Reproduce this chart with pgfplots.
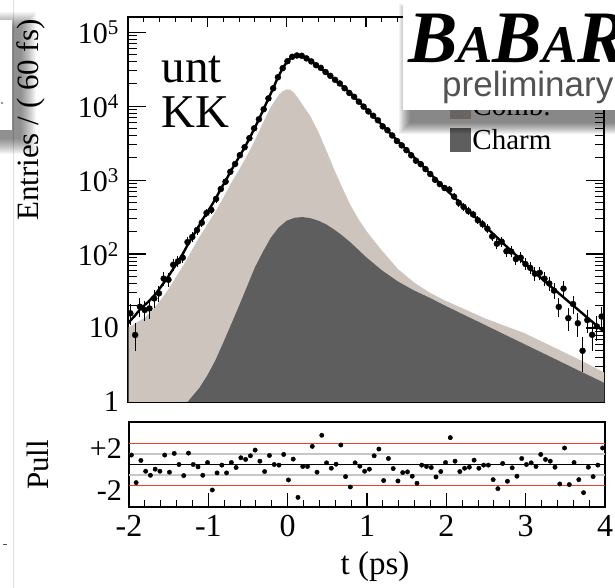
\documentclass[border=0pt]{standalone}
\usepackage{fontspec}
\setmainfont{Liberation Serif}
\newfontfamily\sansfont{Liberation Sans}
\usepackage{pgfplots}
\usepackage{pgfplotstable}
\pgfplotsset{compat=1.18}
\definecolor{combcol}{RGB}{205,197,189}
\definecolor{charmcol}{RGB}{94,94,94}
\definecolor{pullred}{RGB}{238,62,32}

\pgfplotstableread{
t n e
-1.97 15.8 3.97
-1.91 8.06 2.84
-1.85 19.4 4.40
-1.79 17.5 4.18
-1.73 18.4 4.29
-1.67 25.1 5.01
-1.61 29.4 5.42
-1.55 46.5 6.82
-1.49 44.9 6.70
-1.43 71.6 8.46
-1.37 79.4 8.91
-1.31 89.3 9.45
-1.25 145 12.0
-1.19 170 13.0
-1.13 211 14.5
-1.07 265 16.3
-1.01 359 18.9
-0.95 395 19.9
-0.89 556 23.6
-0.83 757 27.5
-0.77 952 30.9
-0.71 1295 36.0
-0.65 1648 40.6
-0.59 2168 46.6
-0.53 2780 52.7
-0.47 3682 60.7
-0.41 4995 70.7
-0.35 6633 81.4
-0.29 9055 95.2
-0.23 12690 113
-0.17 17380 132
-0.11 24540 157
-0.05 32530 180
0.01 40440 201
0.07 46350 215
0.13 48280 220
0.19 47820 219
0.25 44120 210
0.31 40160 200
0.37 35750 189
0.43 32870 181
0.49 28870 170
0.55 25640 160
0.61 22650 150
0.67 20220 142
0.73 17420 132
0.79 15040 123
0.85 13360 116
0.91 11460 107
0.97 9825 99.1
1.03 8470 92.0
1.09 7400 86.0
1.15 6428 80.2
1.21 5319 72.9
1.27 4717 68.7
1.33 4002 63.3
1.39 3373 58.1
1.45 2942 54.2
1.51 2534 50.3
1.57 2160 46.5
1.63 1826 42.7
1.69 1639 40.5
1.75 1406 37.5
1.81 1206 34.7
1.87 1008 31.7
1.93 882 29.7
1.99 781 27.9
2.05 743 27.3
2.11 597 24.4
2.17 492 22.2
2.23 434 20.8
2.29 380 19.5
2.35 343 18.5
2.41 286 16.9
2.47 253 15.9
2.53 220 14.8
2.59 173 13.2
2.65 138 11.7
2.71 147 12.1
2.77 109 10.4
2.83 108 10.4
2.89 85.5 9.25
2.95 89.4 9.46
3.01 73.3 8.56
3.07 65.1 8.07
3.13 54.2 7.36
3.19 55.8 7.47
3.25 46.4 6.81
3.31 40.0 6.32
3.37 32.0 5.66
3.43 19.3 4.39
3.49 34.1 5.84
3.55 13.6 3.69
3.61 21.1 4.59
3.67 11.6 3.41
3.73 4.93 2.22
3.79 12.8 3.58
3.85 8.1 2.85
3.91 10.5 3.24
3.97 14.3 3.78
}\datatable

\pgfplotstableread{
t v
-2.00 11.5
-1.97 12.6
-1.91 14.8
-1.85 17.8
-1.79 20.4
-1.73 23.4
-1.67 27.5
-1.61 33.1
-1.55 40.7
-1.49 50.1
-1.43 63.1
-1.37 79.4
-1.31 100
-1.25 132
-1.19 170
-1.13 214
-1.07 282
-1.01 355
-0.95 447
-0.89 575
-0.83 759
-0.77 977
-0.71 1288
-0.65 1660
-0.59 2138
-0.53 2754
-0.47 3631
-0.41 4898
-0.35 6607
-0.29 9120
-0.23 12590
-0.17 17380
-0.11 24550
-0.05 32360
0.01 40740
0.07 46240
0.13 48980
0.19 47860
0.25 44160
0.31 39810
0.37 35890
0.43 32360
0.49 28840
0.55 25700
0.61 22650
0.67 19950
0.73 17580
0.79 15310
0.85 13340
0.91 11480
0.97 9890
1.03 8511
1.09 7328
1.15 6310
1.21 5433
1.27 4677
1.33 4027
1.39 3467
1.45 2985
1.51 2570
1.57 2213
1.63 1905
1.69 1641
1.75 1413
1.81 1216
1.87 1047
1.93 902
1.99 776
2.05 676
2.11 589
2.17 507
2.23 442
2.29 385
2.35 335
2.41 292
2.47 254
2.53 221
2.59 193
2.65 168
2.71 146
2.77 127
2.83 111
2.89 96.6
2.95 84.1
3.01 73.3
3.07 63.8
3.13 55.6
3.19 49.0
3.25 43.2
3.31 38.0
3.37 33.5
3.43 29.5
3.49 26.0
3.55 22.9
3.61 20.2
3.67 17.8
3.73 15.7
3.79 13.8
3.85 12.2
3.91 10.7
3.97 9.44
4.00 8.91
}\fittable

\pgfplotstableread{
t v
-2.0 10.0
-1.9 11.7
-1.8 13.5
-1.7 17.0
-1.6 22.9
-1.5 32.4
-1.4 47.9
-1.3 70.8
-1.2 110
-1.1 170
-1.0 251
-0.9 372
-0.8 575
-0.7 912
-0.6 1380
-0.5 2138
-0.4 3467
-0.3 5888
-0.2 9772
-0.1 14130
-0.05 15850
0.0 16790
0.05 16600
0.1 14790
0.15 12590
0.2 10470
0.3 7244
0.4 4467
0.5 2512
0.6 1380
0.7 794
0.8 468
0.9 302
1.0 209
1.1 151
1.2 112
1.4 63.1
1.6 41.7
1.8 30.2
2.0 23.4
2.25 17.8
2.5 13.5
2.75 10.7
3.0 8.51
3.25 6.31
3.5 4.68
3.75 3.47
4.0 2.51
}\combtable

\pgfplotstableread{
t v
-1.25 1.0
-1.1 1.55
-1.0 2.29
-0.9 3.63
-0.8 6.31
-0.7 11.2
-0.6 20.0
-0.5 36.3
-0.4 66.1
-0.3 107
-0.2 166
-0.1 229
0.0 282
0.1 309
0.2 316
0.3 305
0.4 282
0.5 251
0.6 214
0.7 178
0.8 145
0.9 115
1.0 91.2
1.2 60.3
1.4 42.7
1.6 32.4
1.8 25.7
2.0 20.0
2.25 14.8
2.5 11.0
2.75 8.13
3.0 6.03
3.25 4.47
3.5 3.31
3.75 2.45
4.0 1.82
}\charmtable

\pgfplotstableread{
t p
-1.97 0.91
-1.91 -1.75
-1.85 0.39
-1.79 -0.65
-1.73 -1.04
-1.67 -0.45
-1.61 -0.65
-1.55 0.91
-1.49 -0.74
-1.43 1.07
-1.37 0.0
-1.31 -1.07
-1.25 1.10
-1.19 0.0
-1.13 -0.23
-1.07 -1.04
-1.01 0.19
-0.95 -2.46
-0.89 -0.81
-0.83 -0.06
-0.77 -0.81
-0.71 0.19
-0.65 -0.29
-0.59 0.65
-0.53 0.49
-0.47 0.84
-0.41 1.39
-0.35 0.32
-0.29 -0.68
-0.23 0.87
-0.17 0.0
-0.11 -0.06
-0.05 0.97
0.01 -1.49
0.07 0.52
0.13 -3.17
0.19 -0.19
0.25 -0.19
0.31 1.75
0.37 -0.74
0.43 2.82
0.49 0.16
0.55 -0.36
0.61 0.03
0.67 1.88
0.73 -1.17
0.79 -2.17
0.85 0.16
0.91 -0.16
0.97 -0.65
1.03 -0.45
1.09 0.84
1.15 1.49
1.21 -1.55
1.27 0.58
1.33 -0.39
1.39 -1.59
1.45 -0.78
1.51 -0.71
1.57 -1.13
1.63 -1.81
1.69 -0.06
1.75 -0.19
1.81 -0.29
1.87 -1.20
1.93 -0.68
1.99 0.19
2.05 2.59
2.11 0.32
2.17 -0.68
2.23 -0.36
2.29 -0.26
2.35 0.42
2.41 -0.36
2.47 -0.06
2.53 -0.06
2.59 -1.46
2.65 -2.33
2.71 0.10
2.77 -1.62
2.83 -0.32
2.89 -1.13
2.95 0.58
3.01 0.0
3.07 0.16
3.13 -0.19
3.19 0.97
3.25 0.49
3.31 0.32
3.37 -0.26
3.43 -1.88
3.49 1.59
3.55 -1.94
3.61 0.19
3.67 -1.46
3.73 -2.72
3.79 -0.26
3.85 -1.17
3.91 -0.06
3.97 1.59
}\pulltable

\newcommand{\ticklab}{\fontsize{30}{30}\selectfont}
\newcommand{\axlab}{\fontsize{31}{31}\selectfont}

\begin{document}
\begin{tikzpicture}
% invisible frame that fixes the page size
\path (0pt,0pt) rectangle (615pt,588pt);
% slide background elements
\begin{scope}[overlay]
\draw[black!12, line width=1pt] (13.5pt,0pt) -- (13.5pt,588pt);
\foreach \k in {1,...,16}{
  \fill[black, opacity=0.035] (-2pt-\k pt,450pt-\k pt) rectangle (20pt+\k pt,560pt+\k pt);
}
\fill[white] (-10pt,458pt) rectangle (12pt,568pt);
\fill[black!55] (2pt,485pt) circle (1.2pt);
\draw[black!70, line width=1pt] (3pt,43pt) -- (7pt,43pt);
\end{scope}

% ---------- main panel ----------
\begin{axis}[
  at={(128pt,186pt)}, anchor=south west,
  scale only axis, width=476pt, height=385pt,
  xmin=-2, xmax=4, ymode=log, ymin=1, ymax=1.6e5,
  xtick=\empty,
  ytick={1,10,100,1000,10000,100000},
  yticklabels={1,10,10\textsuperscript{2},10\textsuperscript{3},10\textsuperscript{4},10\textsuperscript{5}},
  minor ytick={2,3,4,5,6,7,8,9,20,30,40,50,60,70,80,90,200,300,400,500,600,700,800,900,2000,3000,4000,5000,6000,7000,8000,9000,20000,30000,40000,50000,60000,70000,80000,90000},
  ytick pos=both, yticklabel pos=left,
  tick align=inside,
  major tick length=18pt, minor tick length=9pt,
  tick style={black, line width=1.1pt},
  axis line style={black, line width=1.6pt},
  yticklabel style={font=\ticklab, inner sep=0pt, xshift=-9pt},
  ylabel={Entries / ( 60 fs)},
  ylabel style={at={(axis description cs:-0.204,0.732)}, anchor=center, font=\axlab},
  legend style={at={(axis description cs:0.676,0.800)}, anchor=north west,
    draw=none, fill=none, inner sep=0pt, row sep=9pt,
    font=\fontsize{29}{29}\selectfont, nodes={inner sep=1.5pt}},
  legend cell align=left,
]
\addplot[draw=none, fill=combcol, area legend,
  legend image code/.code={\fill[combcol] (0pt,-12pt) rectangle (21pt,12pt);}]
  table[x=t, y=v] {\combtable} \closedcycle;
\addlegendentry{Comb.}
\addplot[draw=none, fill=charmcol, area legend,
  legend image code/.code={\fill[charmcol] (0pt,-12pt) rectangle (21pt,12pt);}]
  table[x=t, y=v] {\charmtable} \closedcycle;
\addlegendentry{Charm}
\addplot[forget plot, black!70, line width=0.8pt] coordinates {(-1.995,1) (-1.995,10)};
\addplot[forget plot, black, line width=2.4pt] table[x=t, y=v] {\fittable};
\addplot[forget plot, only marks, mark=*, mark size=3pt, black,
  error bars/.cd, y dir=both, y explicit,
  error bar style={black, line width=1pt},
  error mark options={black, line width=1pt, mark size=2.2pt}]
  table[x=t, y=n, y error=e] {\datatable};
\node[anchor=base west, font=\fontsize{47}{47}\selectfont] at (axis description cs:0.063,0.829) {unt};
\node[anchor=base west, font=\fontsize{47}{47}\selectfont] at (axis description cs:0.063,0.712) {KK};
\end{axis}

% top x ticks of the main panel
\begin{axis}[
  at={(128pt,186pt)}, anchor=south west,
  scale only axis, width=476pt, height=385pt,
  xmin=-2, xmax=4, ymin=0, ymax=1,
  axis x line*=top, axis y line=none,
  xtick={-2,-1,0,1,2,3,4}, xticklabels={}, minor x tick num=4,
  tick align=inside, major tick length=10pt, minor tick length=5pt,
  tick style={black, line width=1.1pt},
  axis line style={black, line width=1.6pt},
]
\end{axis}

% ---------- pull panel ----------
\begin{axis}[
  at={(129pt,81pt)}, anchor=south west,
  scale only axis, width=476pt, height=85pt,
  xmin=-2, xmax=4, ymin=-4.1, ymax=4.1,
  xtick={-2,-1,0,1,2,3,4}, xticklabels={-2,-1,0,1,2,3,4}, minor x tick num=4,
  xtick pos=left,
  ytick={-2,2}, yticklabels={-2,\raisebox{-3pt}{+2}}, ytick style={draw=none},
  tick align=inside, major tick length=14pt, minor tick length=7pt,
  tick style={black, line width=1.1pt},
  axis line style={black, line width=1.6pt},
  xticklabel style={font=\fontsize{32}{32}\selectfont, inner sep=0pt, yshift=-8pt},
  yticklabel style={font=\fontsize{30}{30}\selectfont, inner sep=0pt, xshift=-7pt, yshift=-5pt},
  xlabel={t (ps)},
  xlabel style={at={(axis description cs:0.517,-0.706)}, anchor=center, inner sep=0pt, font=\fontsize{33}{33}\selectfont},
  ylabel={Pull},
  ylabel style={at={(axis description cs:-0.191,0.494)}, anchor=center, font=\axlab},
]
\addplot[black!22, line width=1.3pt] coordinates {(-2,1) (4,1)};
\addplot[black!22, line width=1.3pt] coordinates {(-2,-1) (4,-1)};
\addplot[pullred, line width=1pt] coordinates {(-2,2) (4,2)};
\addplot[pullred, line width=1pt] coordinates {(-2,-2) (4,-2)};
\addplot[black, line width=1pt] coordinates {(-2,0) (4,0)};
\addplot[only marks, mark=*, mark size=2.2pt, black] table[x=t, y=p] {\pulltable};
\end{axis}

% ---------- overlaid logo box ----------
\begin{scope}[overlay]
\foreach \k in {1,...,12}{
  \fill[black, opacity=0.05] (411pt-\k pt,466pt-\k pt) rectangle (626pt+\k pt,572pt+\k pt);
}
\fill[white] (403pt,478pt) rectangle (625pt,586pt);
\node[anchor=base west, inner sep=0pt] at (408pt,525pt)
  {\bfseries\itshape\fontsize{74}{74}\selectfont B\fontsize{53}{53}\selectfont A\fontsize{74}{74}\selectfont B\fontsize{53}{53}\selectfont A\fontsize{74}{74}\selectfont R};
\node[anchor=base west, inner sep=0pt, text=black!68] at (442pt,491pt)
  {\sansfont\fontsize{35}{35}\selectfont preliminary};
\end{scope}
\end{tikzpicture}
\end{document}
